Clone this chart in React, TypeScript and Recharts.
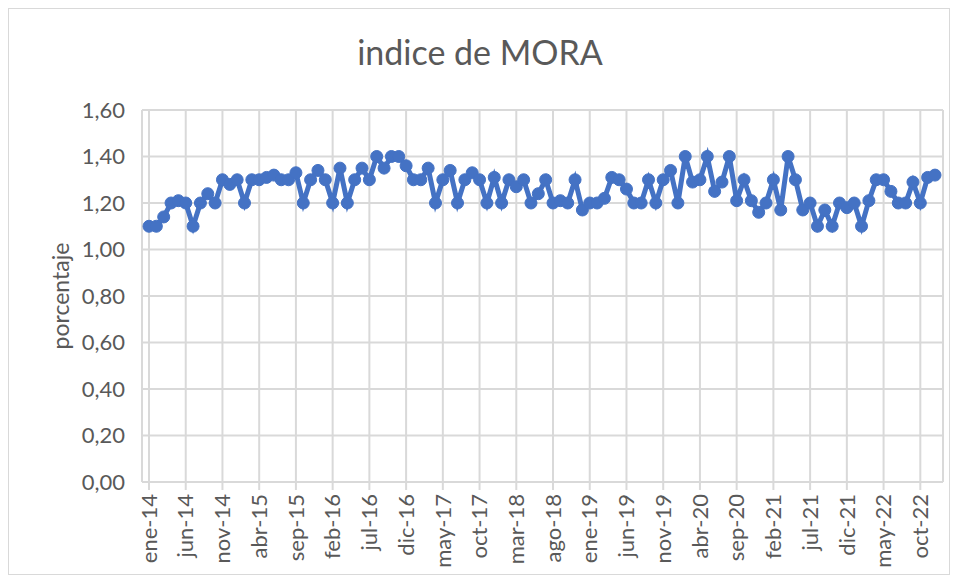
import React from 'react';
import { LineChart, Line, XAxis, YAxis, CartesianGrid } from 'recharts';

const MONTHS = ['ene', 'feb', 'mar', 'abr', 'may', 'jun', 'jul', 'ago', 'sep', 'oct', 'nov', 'dic'];
const YEARS = ['14', '15', '16', '17', '18', '19', '20', '21', '22'];

// indice de mora mensual, ene-14 .. dic-22
const MORA = [
  1.10, 1.10, 1.14, 1.20, 1.21, 1.20, 1.10, 1.20, 1.24, 1.20, 1.30, 1.28,
  1.30, 1.20, 1.30, 1.30, 1.31, 1.32, 1.30, 1.30, 1.33, 1.20, 1.30, 1.34,
  1.30, 1.20, 1.35, 1.20, 1.30, 1.35, 1.30, 1.40, 1.35, 1.40, 1.40, 1.36,
  1.30, 1.30, 1.35, 1.20, 1.30, 1.34, 1.20, 1.30, 1.33, 1.30, 1.20, 1.31,
  1.20, 1.30, 1.27, 1.30, 1.20, 1.24, 1.30, 1.20, 1.21, 1.20, 1.30, 1.17,
  1.20, 1.20, 1.22, 1.31, 1.30, 1.26, 1.20, 1.20, 1.30, 1.20, 1.30, 1.34,
  1.20, 1.40, 1.29, 1.30, 1.40, 1.25, 1.29, 1.40, 1.21, 1.30, 1.21, 1.16,
  1.20, 1.30, 1.17, 1.40, 1.30, 1.17, 1.20, 1.10, 1.17, 1.10, 1.20, 1.18,
  1.20, 1.10, 1.21, 1.30, 1.30, 1.25, 1.20, 1.20, 1.29, 1.20, 1.31, 1.32,
];

const Y_TICKS = [0, 0.2, 0.4, 0.6, 0.8, 1.0, 1.2, 1.4, 1.6];

const LABELS = YEARS.flatMap((y) => MONTHS.map((m) => `${m}-${y}`));
const data = MORA.map((v, i) => ({ mes: LABELS[i], mora: v }));

const TEXT = '#595959';
const GRID = '#d9d9d9';
const FONT = 'Lato, "Open Sans", sans-serif';

const MonthTick = (props: any) => {
  const { x, y, payload } = props;
  return (
    <text
      x={x}
      y={y}
      transform={`rotate(-90 ${x} ${y})`}
      textAnchor="end"
      dy="0.35em"
      fill={TEXT}
      fontSize={22}
      fontFamily={FONT}
    >
      {payload.value}
    </text>
  );
};

const App: React.FC = () => {
  return (
    <div
      style={{
        position: 'relative',
        width: 940,
        height: 565,
        border: `1px solid ${GRID}`,
        fontFamily: FONT,
        background: '#fff',
      }}
    >
      {/* titulo */}
      <div
        style={{
          position: 'absolute',
          top: 23,
          left: 0,
          width: 958 - 16,
          textAlign: 'center',
          fontSize: 34,
          color: TEXT,
          lineHeight: '40px',
        }}
      >
        indice de MORA
      </div>
      {/* titulo eje Y */}
      <div
        style={{
          position: 'absolute',
          left: 51,
          top: 287,
          transform: 'translate(-50%, -50%) rotate(-90deg)',
          fontSize: 23,
          color: TEXT,
          whiteSpace: 'nowrap',
        }}
      >
        porcentaje
      </div>
      <LineChart
        width={940}
        height={565}
        data={data}
        margin={{ top: 101, right: 6, bottom: 0, left: 0 }}
      >
        <CartesianGrid stroke={GRID} strokeWidth={2} />
        <XAxis
          dataKey="mes"
          interval={4}
          padding={{ left: 7, right: 8 }}
          height={92}
          axisLine={{ stroke: GRID, strokeWidth: 2 }}
          tickLine={{ stroke: GRID, strokeWidth: 2 }}
          tickSize={8}
          tickMargin={4}
          tick={<MonthTick />}
        />
        <YAxis
          width={133}
          domain={[0, 1.6]}
          ticks={Y_TICKS}
          axisLine={false}
          tickLine={false}
          tickSize={0}
          tickMargin={17}
          tickFormatter={(v: number) => v.toFixed(2).replace('.', ',')}
          tick={{ fill: TEXT, fontSize: 22, fontFamily: FONT }}
        />
        <Line
          type="linear"
          dataKey="mora"
          stroke="#4472c4"
          strokeWidth={5}
          dot={{ r: 6, fill: '#4472c4', stroke: '#4472c4', strokeWidth: 1 }}
          isAnimationActive={false}
        />
      </LineChart>
    </div>
  );
};

export default App;
